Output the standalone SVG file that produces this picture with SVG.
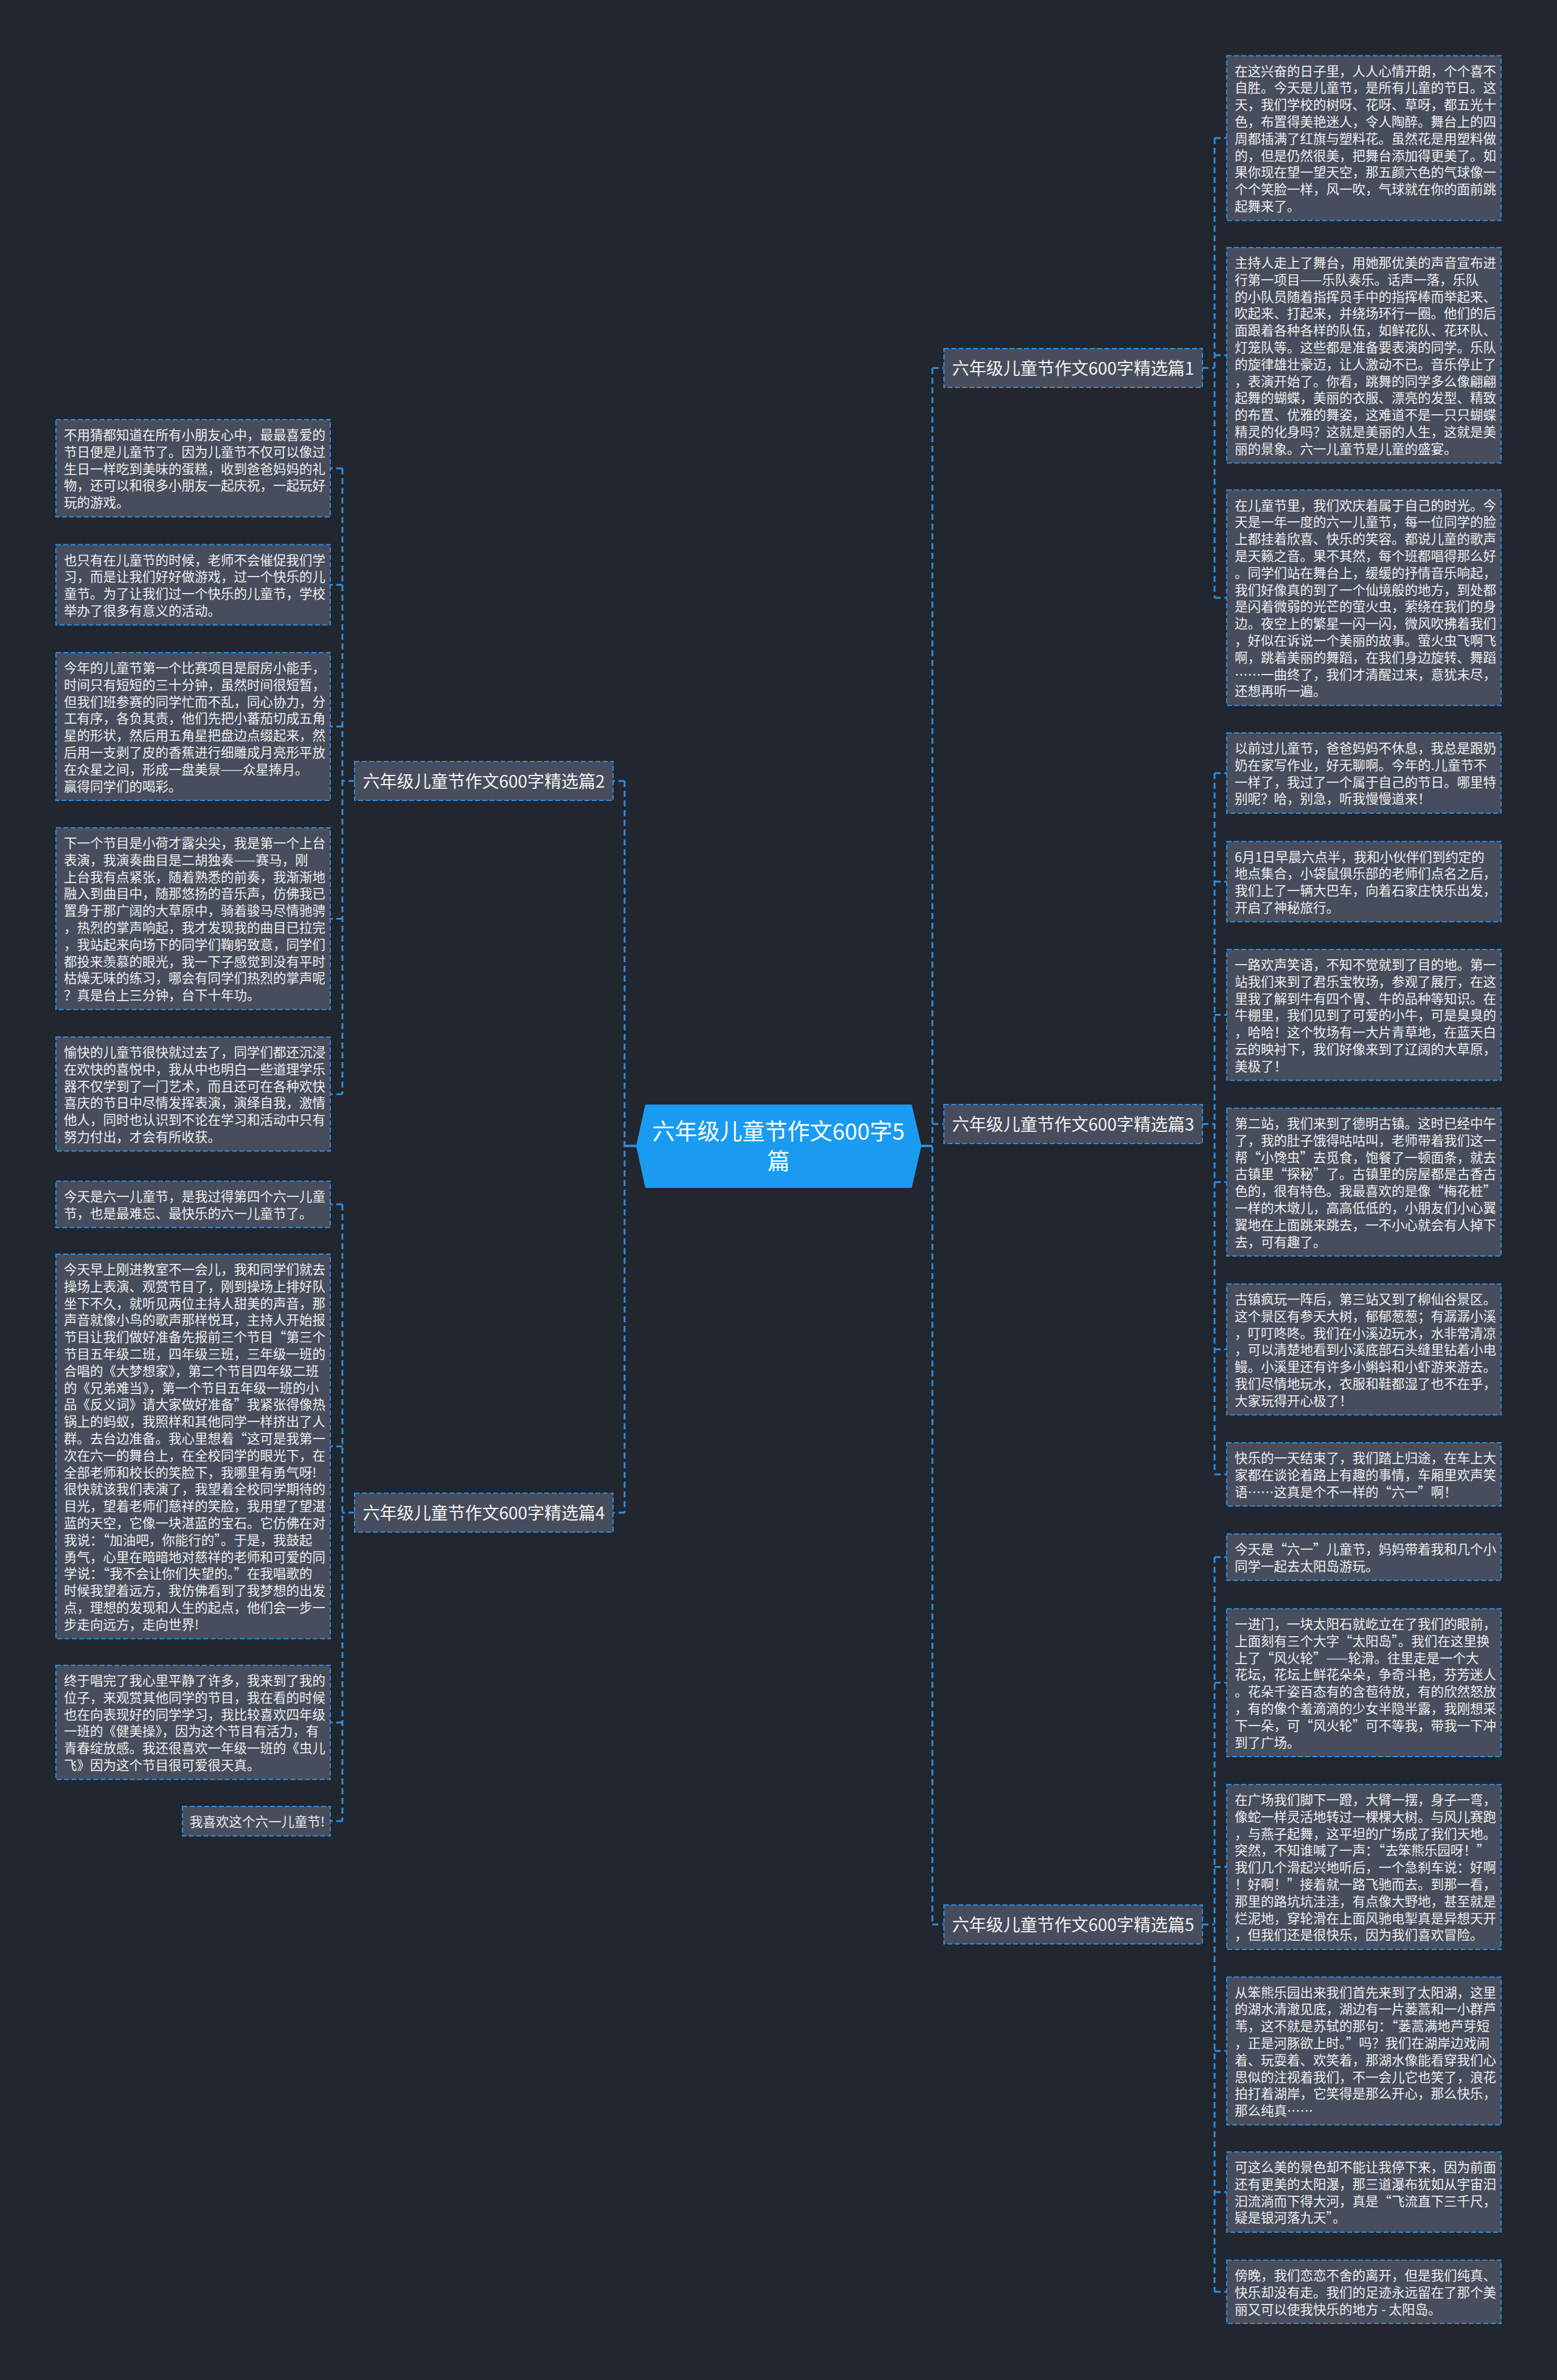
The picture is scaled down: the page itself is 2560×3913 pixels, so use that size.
<svg xmlns="http://www.w3.org/2000/svg" width="2560" height="3913" viewBox="0 0 2560 3913">
<style>
.bg{fill:#22262f}
.leaf rect,.branch rect{fill:#474d5c;stroke:#2b8de0;stroke-width:2;stroke-dasharray:8 4}
.leaf text{font-family:"Noto Sans CJK SC","Microsoft YaHei",sans-serif;font-size:21.5px;fill:#eeeeee}
.branch text{font-family:"Noto Sans CJK SC","Microsoft YaHei",sans-serif;font-size:28px;fill:#f2f2f2;text-anchor:middle}
.center polygon{fill:#1a9bf0}
.center text{font-family:"Noto Sans CJK SC","Microsoft YaHei",sans-serif;font-size:37px;fill:#ffffff;text-anchor:middle}
.conn path{fill:none;stroke:#2b8de0;stroke-width:3;stroke-dasharray:10 6}
.conn path.solid{stroke-dasharray:none;stroke-width:4}
</style>
<rect class="bg" x="0" y="0" width="2560" height="3913"/>
<g id="connectors" class="conn">
<path class="solid" d="M1515,1884 H1533"/>
<path class="solid" d="M1046,1884 H1027"/>
<path d="M1533,605 V3164 M1533,605 H1552 M1533,1848 H1552 M1533,3164 H1552"/>
<path d="M1027,1284 V2487 M1027,1284 H1008 M1027,2487 H1008"/>
<path d="M1977,605 H1997 M1997,227 V983 M1997,227 H2017 M1997,584 H2017 M1997,983 H2017"/>
<path d="M1977,1848 H1997 M1997,1271 V2424 M1997,1271 H2017 M1997,1449.5 H2017 M1997,1668.6 H2017 M1997,1943.5 H2017 M1997,2218.6 H2017 M1997,2424 H2017"/>
<path d="M1977,3164 H1997 M1997,2560 V3768 M1997,2560 H2017 M1997,2766.5 H2017 M1997,3069.4 H2017 M1997,3372 H2017 M1997,3604 H2017 M1997,3768 H2017"/>
<path d="M583,1284 H563 M563,770 V1799 M563,770 H543 M563,961.5 H543 M563,1194.5 H543 M563,1510.4 H543 M563,1799 H543"/>
<path d="M583,2487 H563 M563,1980 V2994 M563,1980 H543 M563,2378 H543 M563,2832 H543 M563,2994 H543"/>
</g>
<g id="center" class="center">
<polygon points="1061,1816 1499,1816 1515,1884 1499,1953 1061,1953 1046,1884"/>
<text x="1280" y="1874">六年级儿童节作文600字5</text>
<text x="1280" y="1923">篇</text>
</g>
<g id="branch1" class="branch"><rect x="1552" y="573" width="425" height="64"/><text x="1764.5" y="615.6">六年级儿童节作文600字精选篇1</text></g>
<g id="branch2" class="branch"><rect x="583" y="1252" width="425" height="64"/><text x="795.5" y="1294.6">六年级儿童节作文600字精选篇2</text></g>
<g id="branch3" class="branch"><rect x="1552" y="1816" width="425" height="64"/><text x="1764.5" y="1858.6">六年级儿童节作文600字精选篇3</text></g>
<g id="branch4" class="branch"><rect x="583" y="2455" width="425" height="64"/><text x="795.5" y="2497.6">六年级儿童节作文600字精选篇4</text></g>
<g id="branch5" class="branch"><rect x="1552" y="3132" width="425" height="64"/><text x="1764.5" y="3174.6">六年级儿童节作文600字精选篇5</text></g>

<g id="r1" class="leaf"><rect x="2017" y="91.5" width="451" height="270.9"/><text y="124.5"><tspan x="2030">在这兴奋的日子里，人人心情开朗，个个喜不</tspan><tspan x="2030" dy="27.8">自胜。今天是儿童节，是所有儿童的节日。这</tspan><tspan x="2030" dy="27.8">天，我们学校的树呀、花呀、草呀，都五光十</tspan><tspan x="2030" dy="27.8">色，布置得美艳迷人，令人陶醉。舞台上的四</tspan><tspan x="2030" dy="27.8">周都插满了红旗与塑料花。虽然花是用塑料做</tspan><tspan x="2030" dy="27.8">的，但是仍然很美，把舞台添加得更美了。如</tspan><tspan x="2030" dy="27.8">果你现在望一望天空，那五颜六色的气球像一</tspan><tspan x="2030" dy="27.8">个个笑脸一样，风一吹，气球就在你的面前跳</tspan><tspan x="2030" dy="27.8">起舞来了。</tspan></text></g>
<g id="r2" class="leaf"><rect x="2017" y="407" width="451" height="354.3"/><text y="440"><tspan x="2030">主持人走上了舞台，用她那优美的声音宣布进</tspan><tspan x="2030" dy="27.8">行第一项目——乐队奏乐。话声一落，乐队</tspan><tspan x="2030" dy="27.8">的小队员随着指挥员手中的指挥棒而举起来、</tspan><tspan x="2030" dy="27.8">吹起来、打起来，并绕场环行一圈。他们的后</tspan><tspan x="2030" dy="27.8">面跟着各种各样的队伍，如鲜花队、花环队、</tspan><tspan x="2030" dy="27.8">灯笼队等。这些都是准备要表演的同学。乐队</tspan><tspan x="2030" dy="27.8">的旋律雄壮豪迈，让人激动不已。音乐停止了</tspan><tspan x="2030" dy="27.8">，表演开始了。你看，跳舞的同学多么像翩翩</tspan><tspan x="2030" dy="27.8">起舞的蝴蝶，美丽的衣服、漂亮的发型、精致</tspan><tspan x="2030" dy="27.8">的布置、优雅的舞姿，这难道不是一只只蝴蝶</tspan><tspan x="2030" dy="27.8">精灵的化身吗？这就是美丽的人生，这就是美</tspan><tspan x="2030" dy="27.8">丽的景象。六一儿童节是儿童的盛宴。</tspan></text></g>
<g id="r3" class="leaf"><rect x="2017" y="805.5" width="451" height="354.3"/><text y="838.5"><tspan x="2030">在儿童节里，我们欢庆着属于自己的时光。今</tspan><tspan x="2030" dy="27.8">天是一年一度的六一儿童节，每一位同学的脸</tspan><tspan x="2030" dy="27.8">上都挂着欣喜、快乐的笑容。都说儿童的歌声</tspan><tspan x="2030" dy="27.8">是天籁之音。果不其然，每个班都唱得那么好</tspan><tspan x="2030" dy="27.8">。同学们站在舞台上，缓缓的抒情音乐响起，</tspan><tspan x="2030" dy="27.8">我们好像真的到了一个仙境般的地方，到处都</tspan><tspan x="2030" dy="27.8">是闪着微弱的光芒的萤火虫，萦绕在我们的身</tspan><tspan x="2030" dy="27.8">边。夜空上的繁星一闪一闪，微风吹拂着我们</tspan><tspan x="2030" dy="27.8">，好似在诉说一个美丽的故事。萤火虫飞啊飞</tspan><tspan x="2030" dy="27.8">啊，跳着美丽的舞蹈，在我们身边旋转、舞蹈</tspan><tspan x="2030" dy="27.8">……一曲终了，我们才清醒过来，意犹未尽，</tspan><tspan x="2030" dy="27.8">还想再听一遍。</tspan></text></g>
<g id="r4" class="leaf"><rect x="2017" y="1205" width="451" height="131.9"/><text y="1238"><tspan x="2030">以前过儿童节，爸爸妈妈不休息，我总是跟奶</tspan><tspan x="2030" dy="27.8">奶在家写作业，好无聊啊。今年的.儿童节不</tspan><tspan x="2030" dy="27.8">一样了，我过了一个属于自己的节日。哪里特</tspan><tspan x="2030" dy="27.8">别呢？哈，别急，听我慢慢道来！</tspan></text></g>
<g id="r5" class="leaf"><rect x="2017" y="1383.5" width="451" height="131.9"/><text y="1416.5"><tspan x="2030">6月1日早晨六点半，我和小伙伴们到约定的</tspan><tspan x="2030" dy="27.8">地点集合，小袋鼠俱乐部的老师们点名之后，</tspan><tspan x="2030" dy="27.8">我们上了一辆大巴车，向着石家庄快乐出发，</tspan><tspan x="2030" dy="27.8">开启了神秘旅行。</tspan></text></g>
<g id="r6" class="leaf"><rect x="2017" y="1561" width="451" height="215.3"/><text y="1594"><tspan x="2030">一路欢声笑语，不知不觉就到了目的地。第一</tspan><tspan x="2030" dy="27.8">站我们来到了君乐宝牧场，参观了展厅，在这</tspan><tspan x="2030" dy="27.8">里我了解到牛有四个胃、牛的品种等知识。在</tspan><tspan x="2030" dy="27.8">牛棚里，我们见到了可爱的小牛，可是臭臭的</tspan><tspan x="2030" dy="27.8">，哈哈！这个牧场有一大片青草地，在蓝天白</tspan><tspan x="2030" dy="27.8">云的映衬下，我们好像来到了辽阔的大草原，</tspan><tspan x="2030" dy="27.8">美极了！</tspan></text></g>
<g id="r7" class="leaf"><rect x="2017" y="1822" width="451" height="243.1"/><text y="1855"><tspan x="2030">第二站，我们来到了德明古镇。这时已经中午</tspan><tspan x="2030" dy="27.8">了，我的肚子饿得咕咕叫，老师带着我们这一</tspan><tspan x="2030" dy="27.8">帮“小馋虫”去觅食，饱餐了一顿面条，就去</tspan><tspan x="2030" dy="27.8">古镇里“探秘”了。古镇里的房屋都是古香古</tspan><tspan x="2030" dy="27.8">色的，很有特色。我最喜欢的是像“梅花桩”</tspan><tspan x="2030" dy="27.8">一样的木墩儿，高高低低的，小朋友们小心翼</tspan><tspan x="2030" dy="27.8">翼地在上面跳来跳去，一不小心就会有人掉下</tspan><tspan x="2030" dy="27.8">去，可有趣了。</tspan></text></g>
<g id="r8" class="leaf"><rect x="2017" y="2111" width="451" height="215.3"/><text y="2144"><tspan x="2030">古镇疯玩一阵后，第三站又到了柳仙谷景区。</tspan><tspan x="2030" dy="27.8">这个景区有参天大树，郁郁葱葱；有潺潺小溪</tspan><tspan x="2030" dy="27.8">，叮叮咚咚。我们在小溪边玩水，水非常清凉</tspan><tspan x="2030" dy="27.8">，可以清楚地看到小溪底部石头缝里钻着小电</tspan><tspan x="2030" dy="27.8">鳗。小溪里还有许多小蝌蚪和小虾游来游去。</tspan><tspan x="2030" dy="27.8">我们尽情地玩水，衣服和鞋都湿了也不在乎，</tspan><tspan x="2030" dy="27.8">大家玩得开心极了！</tspan></text></g>
<g id="r9" class="leaf"><rect x="2017" y="2372" width="451" height="104.1"/><text y="2405"><tspan x="2030">快乐的一天结束了，我们踏上归途，在车上大</tspan><tspan x="2030" dy="27.8">家都在谈论着路上有趣的事情，车厢里欢声笑</tspan><tspan x="2030" dy="27.8">语……这真是个不一样的“六一”啊！</tspan></text></g>
<g id="r10" class="leaf"><rect x="2017" y="2522" width="451" height="76.3"/><text y="2555"><tspan x="2030">今天是“六一”儿童节，妈妈带着我和几个小</tspan><tspan x="2030" dy="27.8">同学一起去太阳岛游玩。</tspan></text></g>
<g id="r11" class="leaf"><rect x="2017" y="2645" width="451" height="243.1"/><text y="2678"><tspan x="2030">一进门，一块太阳石就屹立在了我们的眼前，</tspan><tspan x="2030" dy="27.8">上面刻有三个大字“太阳岛”。我们在这里换</tspan><tspan x="2030" dy="27.8">上了“风火轮”——轮滑。往里走是一个大</tspan><tspan x="2030" dy="27.8">花坛，花坛上鲜花朵朵，争奇斗艳，芬芳迷人</tspan><tspan x="2030" dy="27.8">。花朵千姿百态有的含苞待放，有的欣然怒放</tspan><tspan x="2030" dy="27.8">，有的像个羞滴滴的少女半隐半露，我刚想采</tspan><tspan x="2030" dy="27.8">下一朵，可“风火轮”可不等我，带我一下冲</tspan><tspan x="2030" dy="27.8">到了广场。</tspan></text></g>
<g id="r12" class="leaf"><rect x="2017" y="2934" width="451" height="270.9"/><text y="2967"><tspan x="2030">在广场我们脚下一蹬，大臂一摆，身子一弯，</tspan><tspan x="2030" dy="27.8">像蛇一样灵活地转过一棵棵大树。与风儿赛跑</tspan><tspan x="2030" dy="27.8">，与燕子起舞，这平坦的广场成了我们天地。</tspan><tspan x="2030" dy="27.8">突然，不知谁喊了一声：“去笨熊乐园呀！”</tspan><tspan x="2030" dy="27.8">我们几个滑起兴地听后，一个急刹车说：好啊</tspan><tspan x="2030" dy="27.8">！好啊！”接着就一路飞驰而去。到那一看，</tspan><tspan x="2030" dy="27.8">那里的路坑坑洼洼，有点像大野地，甚至就是</tspan><tspan x="2030" dy="27.8">烂泥地，穿轮滑在上面风驰电掣真是异想天开</tspan><tspan x="2030" dy="27.8">，但我们还是很快乐，因为我们喜欢冒险。</tspan></text></g>
<g id="r13" class="leaf"><rect x="2017" y="3250.5" width="451" height="243.1"/><text y="3283.5"><tspan x="2030">从笨熊乐园出来我们首先来到了太阳湖，这里</tspan><tspan x="2030" dy="27.8">的湖水清澈见底，湖边有一片蒌蒿和一小群芦</tspan><tspan x="2030" dy="27.8">苇，这不就是苏轼的那句：“蒌蒿满地芦芽短</tspan><tspan x="2030" dy="27.8">，正是河豚欲上时。”吗？我们在湖岸边戏闹</tspan><tspan x="2030" dy="27.8">着、玩耍着、欢笑着，那湖水像能看穿我们心</tspan><tspan x="2030" dy="27.8">思似的注视着我们，不一会儿它也笑了，浪花</tspan><tspan x="2030" dy="27.8">拍打着湖岸，它笑得是那么开心，那么快乐，</tspan><tspan x="2030" dy="27.8">那么纯真……</tspan></text></g>
<g id="r14" class="leaf"><rect x="2017" y="3538" width="451" height="131.9"/><text y="3571"><tspan x="2030">可这么美的景色却不能让我停下来，因为前面</tspan><tspan x="2030" dy="27.8">还有更美的太阳瀑，那三道瀑布犹如从宇宙汩</tspan><tspan x="2030" dy="27.8">汩流淌而下得大河，真是“飞流直下三千尺，</tspan><tspan x="2030" dy="27.8">疑是银河落九天”。</tspan></text></g>
<g id="r15" class="leaf"><rect x="2017" y="3716" width="451" height="104.1"/><text y="3749"><tspan x="2030">傍晚，我们恋恋不舍的离开，但是我们纯真、</tspan><tspan x="2030" dy="27.8">快乐却没有走。我们的足迹永远留在了那个美</tspan><tspan x="2030" dy="27.8">丽又可以使我快乐的地方 - 太阳岛。</tspan></text></g>

<g id="l1" class="leaf"><rect x="92" y="690" width="451" height="159.7"/><text y="723"><tspan x="105">不用猜都知道在所有小朋友心中，最最喜爱的</tspan><tspan x="105" dy="27.8">节日便是儿童节了。因为儿童节不仅可以像过</tspan><tspan x="105" dy="27.8">生日一样吃到美味的蛋糕，收到爸爸妈妈的礼</tspan><tspan x="105" dy="27.8">物，还可以和很多小朋友一起庆祝，一起玩好</tspan><tspan x="105" dy="27.8">玩的游戏。</tspan></text></g>
<g id="l2" class="leaf"><rect x="92" y="895.5" width="451" height="131.9"/><text y="928.5"><tspan x="105">也只有在儿童节的时候，老师不会催促我们学</tspan><tspan x="105" dy="27.8">习，而是让我们好好做游戏，过一个快乐的儿</tspan><tspan x="105" dy="27.8">童节。为了让我们过一个快乐的儿童节，学校</tspan><tspan x="105" dy="27.8">举办了很多有意义的活动。</tspan></text></g>
<g id="l3" class="leaf"><rect x="92" y="1073" width="451" height="243.1"/><text y="1106"><tspan x="105">今年的儿童节第一个比赛项目是厨房小能手，</tspan><tspan x="105" dy="27.8">时间只有短短的三十分钟，虽然时间很短暂，</tspan><tspan x="105" dy="27.8">但我们班参赛的同学忙而不乱，同心协力，分</tspan><tspan x="105" dy="27.8">工有序，各负其责，他们先把小蕃茄切成五角</tspan><tspan x="105" dy="27.8">星的形状，然后用五角星把盘边点缀起来，然</tspan><tspan x="105" dy="27.8">后用一支剥了皮的香蕉进行细雕成月亮形平放</tspan><tspan x="105" dy="27.8">在众星之间，形成一盘美景——众星捧月。</tspan><tspan x="105" dy="27.8">赢得同学们的喝彩。</tspan></text></g>
<g id="l4" class="leaf"><rect x="92" y="1361" width="451" height="298.7"/><text y="1394"><tspan x="105">下一个节目是小荷才露尖尖，我是第一个上台</tspan><tspan x="105" dy="27.8">表演，我演奏曲目是二胡独奏——赛马，刚</tspan><tspan x="105" dy="27.8">上台我有点紧张，随着熟悉的前奏，我渐渐地</tspan><tspan x="105" dy="27.8">融入到曲目中，随那悠扬的音乐声，仿佛我已</tspan><tspan x="105" dy="27.8">置身于那广阔的大草原中，骑着骏马尽情驰骋</tspan><tspan x="105" dy="27.8">，热烈的掌声响起，我才发现我的曲目已拉完</tspan><tspan x="105" dy="27.8">，我站起来向场下的同学们鞠躬致意，同学们</tspan><tspan x="105" dy="27.8">都投来羡慕的眼光，我一下子感觉到没有平时</tspan><tspan x="105" dy="27.8">枯燥无味的练习，哪会有同学们热烈的掌声呢</tspan><tspan x="105" dy="27.8">？真是台上三分钟，台下十年功。</tspan></text></g>
<g id="l5" class="leaf"><rect x="92" y="1705" width="451" height="187.5"/><text y="1738"><tspan x="105">愉快的儿童节很快就过去了，同学们都还沉浸</tspan><tspan x="105" dy="27.8">在欢快的喜悦中，我从中也明白一些道理学乐</tspan><tspan x="105" dy="27.8">器不仅学到了一门艺术，而且还可在各种欢快</tspan><tspan x="105" dy="27.8">喜庆的节日中尽情发挥表演，演绎自我，激情</tspan><tspan x="105" dy="27.8">他人，同时也认识到不论在学习和活动中只有</tspan><tspan x="105" dy="27.8">努力付出，才会有所收获。</tspan></text></g>
<g id="l6" class="leaf"><rect x="92" y="1942" width="451" height="76.3"/><text y="1975"><tspan x="105">今天是六一儿童节，是我过得第四个六一儿童</tspan><tspan x="105" dy="27.8">节，也是最难忘、最快乐的六一儿童节了。</tspan></text></g>
<g id="l7" class="leaf"><rect x="92" y="2062" width="451" height="632.3"/><text y="2095"><tspan x="105">今天早上刚进教室不一会儿，我和同学们就去</tspan><tspan x="105" dy="27.8">操场上表演、观赏节目了，刚到操场上排好队</tspan><tspan x="105" dy="27.8">坐下不久，就听见两位主持人甜美的声音，那</tspan><tspan x="105" dy="27.8">声音就像小鸟的歌声那样悦耳，主持人开始报</tspan><tspan x="105" dy="27.8">节目让我们做好准备先报前三个节目“第三个</tspan><tspan x="105" dy="27.8">节目五年级二班，四年级三班，三年级一班的</tspan><tspan x="105" dy="27.8">合唱的《大梦想家》，第二个节目四年级二班</tspan><tspan x="105" dy="27.8">的《兄弟难当》，第一个节目五年级一班的小</tspan><tspan x="105" dy="27.8">品《反义词》请大家做好准备”我紧张得像热</tspan><tspan x="105" dy="27.8">锅上的蚂蚁，我照样和其他同学一样挤出了人</tspan><tspan x="105" dy="27.8">群。去台边准备。我心里想着“这可是我第一</tspan><tspan x="105" dy="27.8">次在六一的舞台上，在全校同学的眼光下，在</tspan><tspan x="105" dy="27.8">全部老师和校长的笑脸下，我哪里有勇气呀!</tspan><tspan x="105" dy="27.8">很快就该我们表演了，我望着全校同学期待的</tspan><tspan x="105" dy="27.8">目光，望着老师们慈祥的笑脸，我用望了望湛</tspan><tspan x="105" dy="27.8">蓝的天空，它像一块湛蓝的宝石。它仿佛在对</tspan><tspan x="105" dy="27.8">我说：“加油吧，你能行的”。于是，我鼓起</tspan><tspan x="105" dy="27.8">勇气，心里在暗暗地对慈祥的老师和可爱的同</tspan><tspan x="105" dy="27.8">学说：“我不会让你们失望的。”在我唱歌的</tspan><tspan x="105" dy="27.8">时候我望着远方，我仿佛看到了我梦想的出发</tspan><tspan x="105" dy="27.8">点，理想的发现和人生的起点，他们会一步一</tspan><tspan x="105" dy="27.8">步走向远方，走向世界!</tspan></text></g>
<g id="l8" class="leaf"><rect x="92" y="2738" width="451" height="187.5"/><text y="2771"><tspan x="105">终于唱完了我心里平静了许多，我来到了我的</tspan><tspan x="105" dy="27.8">位子，来观赏其他同学的节目，我在看的时候</tspan><tspan x="105" dy="27.8">也在向表现好的同学学习，我比较喜欢四年级</tspan><tspan x="105" dy="27.8">一班的《健美操》，因为这个节目有活力，有</tspan><tspan x="105" dy="27.8">青春绽放感。我还很喜欢一年级一班的《虫儿</tspan><tspan x="105" dy="27.8">飞》因为这个节目很可爱很天真。</tspan></text></g>
<g id="l9" class="leaf"><rect x="300" y="2970" width="243" height="48.5"/><text y="3003"><tspan x="312">我喜欢这个六一儿童节!</tspan></text></g>
</svg>
